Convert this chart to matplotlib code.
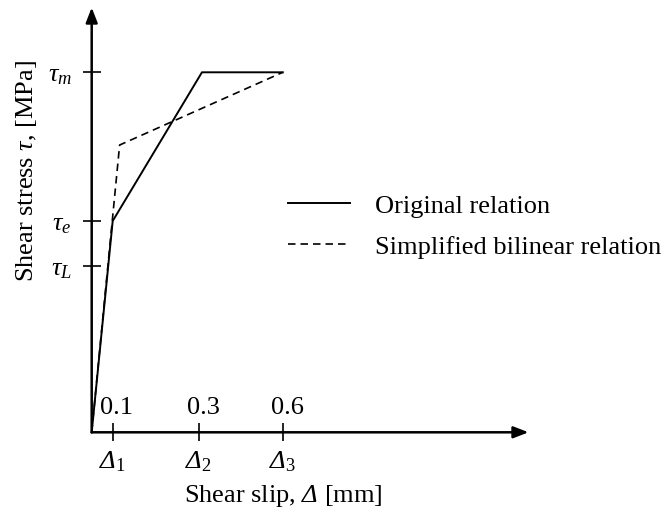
import matplotlib.pyplot as plt
import numpy as np

plt.rcParams['font.family'] = 'Liberation Serif'
plt.rcParams['mathtext.fontset'] = 'custom'
plt.rcParams['mathtext.rm'] = 'Liberation Serif'
plt.rcParams['mathtext.it'] = 'Liberation Serif:italic'
# mathtext sets Greek capitals upright under \mathit, so use the sf slot for italic Δ
plt.rcParams['mathtext.sf'] = 'Liberation Serif:italic'

# schematic positions (not to scale)
slip_pos = [1.0, 5.1, 9.1]
slip_vals = ['0.1', '0.3', '0.6']
slip_names = [r'$\mathsf{Δ}_\mathit{1}$', r'$\mathsf{Δ}_\mathit{2}$', r'$\mathsf{Δ}_\mathit{3}$']

stress_pos = [4.62, 5.87, 10.0]
stress_names = [r'$\tau_L$', r'$\tau_e$', r'$\tau_m$']

# original relation
orig_x = [0.0, 1.0, 5.25, 9.1]
orig_y = [0.0, 5.87, 10.0, 10.0]

# simplified bilinear relation
bil_x = [0.0, 1.33, 9.1]
bil_y = [0.0, 7.98, 10.0]

x_end, y_end = 20.8, 11.8
fs = 19

fig = plt.figure(figsize=(6.68, 5.1), dpi=100)
ax = fig.add_axes([91.7 / 668, 76.7 / 510, 21 * x_end / 668, 36 * y_end / 510])
ax.set_xlim(0, x_end)
ax.set_ylim(0, y_end)
for s in ax.spines.values():
    s.set_visible(False)

# axes with arrow heads
arrow = dict(arrowstyle='-|>,head_length=0.9,head_width=0.35', color='black', lw=1.8,
             shrinkA=0, shrinkB=0)
ax.annotate('', xy=(x_end, 0), xytext=(0, 0), arrowprops=arrow, annotation_clip=False)
ax.annotate('', xy=(0, y_end), xytext=(0, 0), arrowprops=arrow, annotation_clip=False)

ax.plot(orig_x, orig_y, color='black', lw=1.4, label='Original relation', clip_on=False)
ax.plot(bil_x, bil_y, color='black', lw=1.2, dashes=(4.5, 3),
        label='Simplified bilinear relation', clip_on=False)

ax.set_xticks(slip_pos)
ax.set_xticklabels(slip_names)
ax.set_yticks(stress_pos)
ax.set_yticklabels(stress_names)
ax.tick_params(direction='inout', length=13, width=1.2, labelsize=fs)
ax.tick_params(axis='x', pad=5)
ax.tick_params(axis='y', pad=8)

for p, v in zip(slip_pos, slip_vals):
    ax.annotate(v, xy=(p, 0), xytext=(3, 10), textcoords='offset points',
                ha='center', va='bottom', fontsize=fs)

ax.set_xlabel(r'Shear slip, $\mathsf{Δ}$ [mm]', fontsize=fs, va='center')
ax.xaxis.set_label_coords(0.438, -0.148)
ax.set_ylabel(r'Shear stress $\tau$, [MPa]', fontsize=fs, va='center')
ax.yaxis.set_label_coords(-0.15, 0.6175)

ax.legend(loc='upper left', bbox_to_anchor=(288 / 668, 1 - 195 / 510),
          bbox_transform=fig.transFigure, frameon=False, fontsize=fs,
          borderpad=0, borderaxespad=0,
          handlelength=2.35, handletextpad=0.95, labelspacing=0.64)

fig.savefig('out.png', dpi=100)
